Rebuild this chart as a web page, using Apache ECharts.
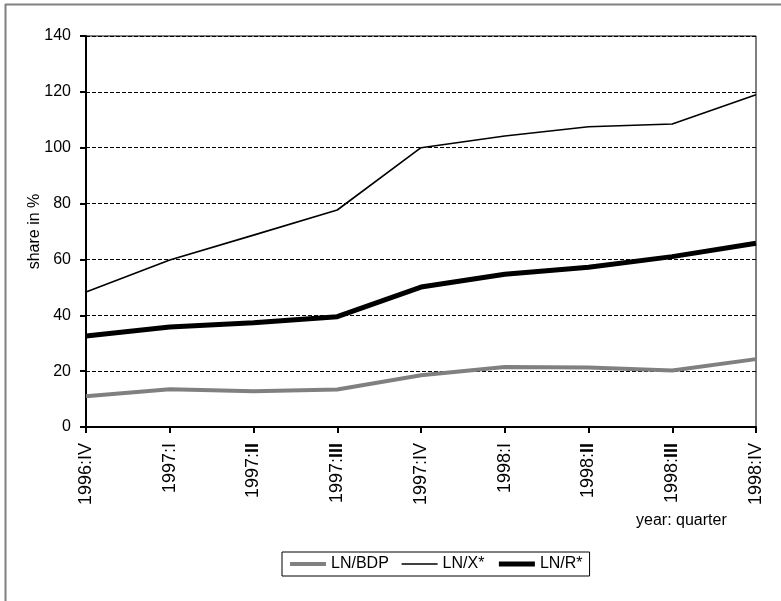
<!DOCTYPE html>
<html>
<head>
<meta charset="utf-8">
<script src="https://cdn.jsdelivr.net/npm/echarts@6/dist/echarts.min.js"></script>
<style>
html,body{margin:0;padding:0;background:#fff;}
#chart{width:781px;height:601px;}
</style>
</head>
<body>
<div id="chart"></div>
<script>
var categories = ['1996:IV','1997:I','1997:II','1997:III','1997:IV','1998:I','1998:II','1998:III','1998:IV'];
var lnBDP = [11.0, 13.5, 12.8, 13.4, 18.5, 21.5, 21.3, 20.2, 24.3];
var lnX   = [48.3, 59.8, 68.7, 77.7, 100.0, 104.2, 107.5, 108.5, 119.0];
var lnR   = [32.6, 35.8, 37.3, 39.5, 50.1, 54.7, 57.2, 61.0, 65.8];
var yTicks = [0, 20, 40, 60, 80, 100, 120, 140];
var seriesNames = ['LN/BDP', 'LN/X*', 'LN/R*'];
var seriesColors = ['#808080', '#000000', '#000000'];
var seriesWidths = [4, 1.6, 5];

var FONT = '"Liberation Sans", Arial, sans-serif';
var chart = echarts.init(document.getElementById('chart'));

function xFmt(v) {
  var parts = v.split(':');
  var q = parts[1];
  if (q === 'II' || q === 'III') return parts[0] + ':{b|' + q + '}';
  return v;
}

var dataSets = [lnBDP, lnX, lnR];

chart.setOption({
  animation: false,
  backgroundColor: '#fff',
  textStyle: { fontFamily: FONT },
  grid: { left: 86, right: 25, top: 36, bottom: 174, show: true, borderColor: '#000', borderWidth: 1, backgroundColor: 'transparent' },
  xAxis: {
    type: 'category',
    data: categories,
    boundaryGap: false,
    axisLine: { lineStyle: { color: '#000', width: 2 } },
    axisTick: { show: true, alignWithLabel: true, length: 6, inside: false, lineStyle: { color: '#000', width: 2 } },
    axisLabel: {
      rotate: 90, margin: 16, color: '#000', fontSize: 18, fontFamily: FONT,
      formatter: xFmt,
      rich: { b: { fontWeight: 'bold', fontSize: 18, fontFamily: FONT, color: '#000' } }
    },
    splitLine: { show: false }
  },
  yAxis: {
    type: 'value',
    min: 0, max: 140, interval: 20,
    name: 'share in %',
    nameLocation: 'middle',
    nameRotate: 90,
    nameGap: 43,
    nameMoveOverlap: false,
    nameTextStyle: { fontSize: 16, color: '#000', fontFamily: FONT },
    axisLine: { show: true, lineStyle: { color: '#000', width: 2 } },
    axisTick: { show: true, length: 6, lineStyle: { color: '#000', width: 2 } },
    axisLabel: {
      margin: 15, color: '#000', fontSize: 16, fontFamily: FONT,
      formatter: function (v) { return yTicks.indexOf(v) >= 0 ? String(v) : ''; }
    },
    splitLine: { show: true, lineStyle: { color: '#000', width: 1, type: [4, 2] } }
  },
  legend: {
    left: 282, top: 552,
    padding: [4, 7, 4, 6],
    itemWidth: 36, itemHeight: 16, itemGap: 12,
    borderColor: '#000', borderWidth: 1,
    itemStyle: { opacity: 0 },
    textStyle: { fontSize: 16, color: '#000', fontFamily: FONT },
    data: seriesNames.map(function (n, i) {
      return { name: n, lineStyle: { color: seriesColors[i], width: seriesWidths[i] } };
    })
  },
  graphic: [
    { type: 'line', shape: { x1: 5, y1: 4.5, x2: 781, y2: 4.5 }, style: { stroke: '#808080', lineWidth: 2 } },
    { type: 'line', shape: { x1: 5.5, y1: 4, x2: 5.5, y2: 601 }, style: { stroke: '#808080', lineWidth: 2 } },
    { type: 'text', left: 636, top: 513, style: { text: 'year: quarter', fontSize: 16, fill: '#000', fontFamily: FONT } }
  ],
  series: seriesNames.map(function (n, i) {
    return {
      name: n, type: 'line', data: dataSets[i], symbol: 'none',
      lineStyle: { color: seriesColors[i], width: seriesWidths[i] },
      itemStyle: { color: seriesColors[i] }, z: 3 + i
    };
  })
});
</script>
</body>
</html>
